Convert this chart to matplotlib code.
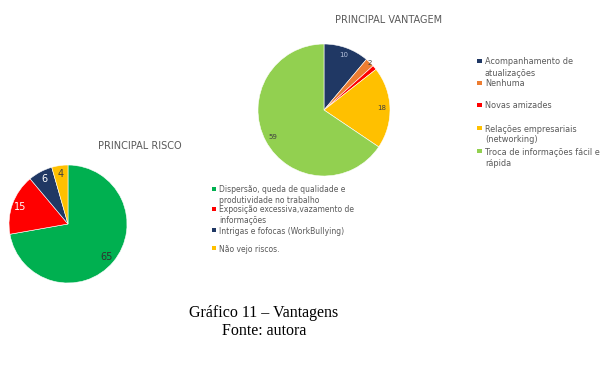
import matplotlib
matplotlib.use("Agg")
import matplotlib.pyplot as plt
from matplotlib.patches import Rectangle
import numpy as np

W, H = 601, 378

# ---- data ----
vant_labels = ["Acompanhamento de\natualizações", "Nenhuma", "Novas amizades",
               "Relações empresariais\n(networking)", "Troca de informações fácil e\nrápida"]
vant_values = [10, 2, 1, 18, 59]
vant_colors = ["#203864", "#ED7D31", "#FF0000", "#FFC000", "#92D050"]

risco_labels = ["Dispersão, queda de qualidade e\nprodutividade no trabalho",
                "Exposição excessiva,vazamento de\ninformações",
                "Intrigas e fofocas (WorkBullying)",
                "Não vejo riscos."]
risco_values = [65, 15, 6, 4]
risco_colors = ["#00B050", "#FF0000", "#203864", "#FFC000"]

GRAY = "#595959"

fig = plt.figure(figsize=(W / 100, H / 100), dpi=100)
fig.patch.set_facecolor("white")


def fx(x):
    return x / W


def fy(y):
    return 1 - y / H


def pie_at(cx, cy, r, values, colors, dist, small_dist, fs, txtcolors):
    ax = fig.add_axes([fx(cx - r), fy(cy + r), 2 * r / W, 2 * r / H])
    wedges, _ = ax.pie(values, colors=colors, startangle=90, counterclock=False,
                       radius=1, wedgeprops=dict(linewidth=0.4, edgecolor="white"))
    ax.set_xlim(-1, 1)
    ax.set_ylim(-1, 1)
    ax.set_aspect("equal")
    ax.axis("off")
    total = sum(values)
    for w, v, tc in zip(wedges, values, txtcolors):
        if v < 2:
            continue
        ang = np.deg2rad((w.theta1 + w.theta2) / 2)
        d = small_dist if v / total < 0.05 and v < 3 else dist
        ax.text(d * np.cos(ang), d * np.sin(ang), str(v), ha="center", va="center",
                fontsize=fs, color=tc, clip_on=False)
    return ax


# top pie: PRINCIPAL VANTAGEM
pie_at(324, 110, 66, vant_values, vant_colors, 0.88, 1.0, 5,
       ["#B4C0DC", "#404040", "#404040", "#404040", "#404040"])
fig.text(fx(389), fy(20), "PRINCIPAL VANTAGEM", ha="center", va="center",
         fontsize=7, color=GRAY)

# bottom pie: PRINCIPAL RISCO
pie_at(68, 224, 59, risco_values, risco_colors, 0.86, 0.86, 7,
       ["#303030", "white", "white", "#404040"])
fig.text(fx(140), fy(146), "PRINCIPAL RISCO", ha="center", va="center",
         fontsize=7, color=GRAY)


def legend(xsq, xtxt, ys, labels, colors, fs, sq, step):
    for y, lab, c in zip(ys, labels, colors):
        fig.add_artist(Rectangle((fx(xsq), fy(y + sq / 2)), sq / W, sq / H,
                                 transform=fig.transFigure, facecolor=c,
                                 edgecolor="none"))
        for i, line in enumerate(lab.split("\n")):
            fig.text(fx(xtxt), fy(y + i * step), line, ha="left",
                     va="center_baseline", fontsize=fs, color=GRAY)


# first-line vertical centres
top_rows = [61, 83, 105, 128, 151]
legend(477, 485, top_rows, vant_labels, vant_colors, 5.9, 4.5, 11)
bot_rows = [189, 209, 230, 248]
legend(212, 219, bot_rows, risco_labels, risco_colors, 5.5, 4, 10)

# caption
fig.text(fx(264), fy(313), "Gráfico 11 – Vantagens", ha="center", va="center",
         fontsize=11.5, family="Liberation Serif", color="black")
fig.text(fx(264), fy(331), "Fonte: autora", ha="center", va="center",
         fontsize=11.5, family="Liberation Serif", color="black")

fig.savefig("out.png", dpi=100, facecolor="white")
